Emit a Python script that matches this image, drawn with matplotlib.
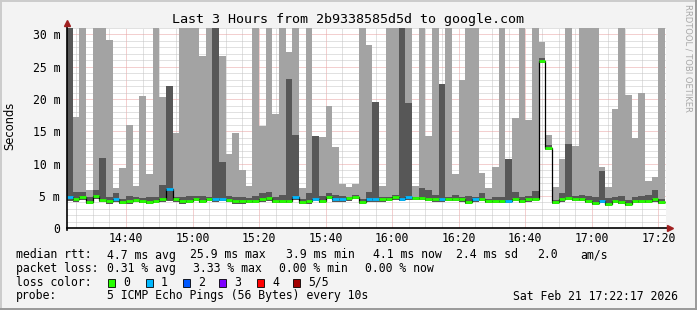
import numpy as np
import pandas as pd
import matplotlib
matplotlib.use('Agg')
import matplotlib.pyplot as plt
import matplotlib.dates as mdates
from matplotlib.ticker import MultipleLocator, FuncFormatter
from matplotlib.patches import Rectangle
from matplotlib.lines import Line2D

# 2 minute steps, first one starts 14:22
first_step = '2026-02-21 14:22:00'
graph_end = pd.Timestamp('2026-02-21 17:22:17')
step = '2min'

# smoke: highest ping, 4th ping (dark band top), median, lowest ping (ms)
rtt_max = [33, 17.3, 33, 5.95, 33, 33, 29.1, 6.3, 9.3, 16.0,
           6.5, 20.4, 8.4, 33, 20.3, 22.1, 14.7, 33, 33, 33,
           26.7, 33, 33, 26.6, 11.5, 14.8, 9.0, 6.5, 33, 15.9,
           33, 17.7, 33, 27.3, 33, 6.2, 33, 14.3, 14.2, 19.0,
           12.6, 6.85, 6.4, 6.85, 33, 28.3, 19.6, 6.5, 33, 33,
           33, 33, 6.5, 33, 14.3, 33, 22.3, 33, 8.4, 22.9,
           33, 33, 8.6, 6.2, 9.5, 33, 10.7, 17.0, 33, 16.8,
           33, 28.8, 14.5, 6.4, 10.7, 33, 12.7, 33, 33, 33,
           9.5, 6.4, 18.4, 33, 20.7, 14.0, 21.0, 7.3, 7.9, 33]
rtt_high = [33, 5.6, 5.6, 4.9, 6.0, 10.9, 4.9, 5.5, 4.6, 5.0,
            4.8, 4.7, 4.9, 4.8, 6.7, 22.1, 4.9, 4.9, 5.0, 5.0,
            5.0, 4.9, 33, 10.3, 5.0, 4.9, 4.8, 4.7, 5.0, 5.45,
            5.66, 4.9, 5.1, 23.1, 14.5, 4.6, 5.4, 14.3, 5.0, 5.4,
            5.2, 5.0, 4.8, 5.15, 4.5, 5.66, 19.6, 4.9, 4.9, 5.15,
            33, 19.4, 4.9, 6.2, 5.9, 5.2, 22.3, 4.9, 5.15, 4.8,
            5.0, 4.9, 5.45, 4.6, 4.9, 4.9, 10.7, 5.66, 4.9, 5.0,
            5.8, 26.4, 12.9, 4.4, 5.4, 13.1, 5.0, 5.1, 5.0, 4.8,
            8.8, 4.7, 4.9, 5.0, 4.4, 4.9, 5.0, 5.1, 5.9, 4.5]
rtt_median = [4.8, 4.5, 4.85, 4.1, 5.0, 4.4, 4.2, 4.55, 4.1, 4.15,
              4.4, 4.3, 4.1, 4.3, 4.5, 6.1, 4.5, 4.2, 4.3, 4.6,
              4.25, 4.6, 4.5, 4.6, 4.4, 4.2, 4.15, 4.2, 4.3, 4.5,
              4.7, 4.25, 4.25, 4.25, 4.8, 4.0, 4.2, 4.6, 4.3, 4.9,
              4.5, 4.5, 4.7, 4.85, 4.1, 4.5, 4.5, 4.5, 4.6, 4.8,
              4.6, 4.8, 4.75, 4.75, 4.6, 4.5, 4.5, 4.6, 4.6, 4.5,
              4.1, 4.5, 4.6, 4.25, 4.25, 4.3, 4.25, 4.6, 4.3, 4.5,
              4.6, 25.9, 12.5, 4.1, 4.5, 4.75, 4.6, 4.6, 4.25, 3.95,
              4.25, 3.8, 4.3, 4.1, 3.8, 4.25, 4.25, 4.25, 4.5, 4.1]
rtt_min = [4.3, 4.1, 4.4, 3.7, 4.5, 4.0, 3.8, 4.1, 3.7, 3.8,
           4.0, 3.9, 3.7, 3.9, 4.1, 4.3, 4.1, 3.8, 3.9, 4.2,
           3.9, 4.2, 4.1, 4.2, 4.0, 3.8, 3.8, 3.9, 3.9, 4.1,
           4.3, 3.9, 3.9, 3.9, 4.4, 3.7, 3.8, 4.2, 3.9, 4.5,
           4.1, 4.1, 4.3, 4.5, 3.7, 4.1, 4.1, 4.1, 4.2, 4.4,
           4.2, 4.4, 4.4, 4.4, 4.2, 4.1, 4.1, 4.2, 4.2, 4.1,
           3.7, 4.1, 4.2, 3.9, 3.9, 3.9, 3.9, 4.2, 3.9, 4.1,
           4.2, 25.6, 12.1, 3.8, 4.1, 4.4, 4.2, 4.2, 3.9, 3.6,
           3.9, 3.5, 3.9, 3.7, 3.5, 3.9, 3.9, 3.9, 4.1, 3.7]
# lost pings (of 5) per step
loss = [1, 0, 0, 0, 0, 0, 0, 1, 0, 0,
        0, 0, 0, 0, 0, 1, 0, 0, 0, 0,
        0, 0, 1, 1, 0, 0, 0, 0, 0, 0,
        0, 0, 0, 0, 1, 0, 0, 1, 0, 0,
        1, 1, 0, 0, 0, 1, 1, 0, 0, 0,
        1, 1, 0, 0, 0, 0, 1, 0, 0, 0,
        0, 1, 0, 0, 0, 0, 1, 0, 0, 0,
        0, 0, 0, 0, 0, 0, 0, 0, 0, 0,
        1, 0, 0, 0, 0, 0, 0, 0, 0, 0]

loss_labels = ['0', '1', '2', '3', '4', '5/5']
loss_colors = ['#26ff00', '#00b8ff', '#0059ff', '#7e00ff', '#ff0000', '#a10000']

title = 'Last 3 Hours from 2b9338585d5d to google.com'

W, H = 697, 310
def fx(x):
    return x / W
def fy(y):
    return 1 - y / H

mono = 'DejaVu Sans Mono'
fs = 8.3

fig = plt.figure(figsize=(W / 100, H / 100), dpi=100, facecolor='#f3f3f3')
ax = fig.add_axes([fx(67), fy(228.3), 599 / W, 200.3 / H])
ax.set_facecolor('white')
ax.set_axisbelow(True)

times = mdates.date2num(pd.date_range(first_step, periods=len(rtt_median), freq=step))
width = times[1] - times[0]
lo = np.array(rtt_min)
ax.bar(times, np.array(rtt_max) - lo, bottom=lo, width=width, align='edge',
       color='#a3a3a3', linewidth=0, zorder=1)
ax.bar(times, np.array(rtt_high) - lo, bottom=lo, width=width, align='edge',
       color='#575757', linewidth=0, zorder=1.1)

edges = np.append(times, times[-1] + width)
ax.stairs(rtt_median, edges, baseline=None, color='black', lw=0.9, zorder=3)
ax.hlines(rtt_median, times, times + width, colors=[loss_colors[l] for l in loss],
          lw=2.0, zorder=3.1)

ax.set_xlim(mdates.date2num(graph_end - pd.Timedelta(hours=3)), mdates.date2num(graph_end))
ax.set_ylim(0, 31)

ax.xaxis.set_major_locator(mdates.MinuteLocator(byminute=[0, 20, 40]))
ax.xaxis.set_minor_locator(mdates.MinuteLocator(byminute=range(0, 60, 5)))
ax.xaxis.set_major_formatter(mdates.DateFormatter('%H:%M'))
ax.yaxis.set_major_locator(MultipleLocator(5))
ax.yaxis.set_minor_locator(MultipleLocator(1))
ax.yaxis.set_major_formatter(FuncFormatter(lambda v, p: '0' if v == 0 else '%d m' % v))

ax.grid(which='minor', color='#c4c4c4', ls=(0, (1, 1)), lw=0.72)
ax.grid(which='major', color='#e8a0a0', ls=(0, (1, 1)), lw=0.72)

for s in ax.spines.values():
    s.set_visible(False)
ax.tick_params(which='both', length=0, labelsize=fs, labelfontfamily=mono)
ax.tick_params(axis='x', pad=2.5)
ax.tick_params(axis='y', pad=5)

# axes with arrows like rrdtool
ax.add_line(Line2D([0, 1.004], [0, 0], transform=ax.transAxes, color='black',
                   lw=1.2, clip_on=False, zorder=5))
ax.add_line(Line2D([0, 0], [-0.01, 1.01], transform=ax.transAxes, color='black',
                   lw=1.2, clip_on=False, zorder=5))
ax.plot([1.007], [0], marker='>', ms=4, color='#a02020', transform=ax.transAxes,
        clip_on=False, zorder=6)
ax.plot([0], [1.025], marker='^', ms=4, color='#a02020', transform=ax.transAxes,
        clip_on=False, zorder=6)

fig.text(fx(348), fy(19), title, ha='center', va='center', family=mono, size=9.6)
fig.text(fx(10), fy(126), 'Seconds', ha='center', va='center', rotation=90,
         family='DejaVu Sans', size=fs)
fig.text(fx(688), fy(4), 'RRDTOOL / TOBI OETIKER', ha='center', va='top',
         rotation=270, family='DejaVu Sans', size=6, color='#a8a8a8')

def row(y, items):
    for x, s in items:
        fig.text(fx(x), fy(y), s, ha='left', va='center', family=mono, size=fs)

row(255, [(16, 'median rtt:'), (107, '4.7 ms avg'), (190, '25.9 ms max'),
          (286, '3.9 ms min'), (373, '4.1 ms now'), (456, '2.4 ms sd'),
          (537, '2.0'), (580, 'am/s')])
row(268.5, [(16, 'packet loss:'), (107, '0.31 % avg'), (193, '3.33 % max'),
            (279, '0.00 % min'), (365, '0.00 % now')])
row(282.3, [(16, 'loss color:')])
box_x = [108, 146, 183, 219, 257, 293]
for bx, c, lab in zip(box_x, loss_colors, loss_labels):
    fig.patches.append(Rectangle((fx(bx), fy(286.5)), 7 / W, 8 / H, transform=fig.transFigure,
                                 facecolor=c, edgecolor='black', lw=0.6))
    fig.text(fx(bx + 15), fy(282.3), lab, ha='left', va='center', family=mono, size=fs)
row(296, [(16, 'probe:'), (107, '5 ICMP Echo Pings (56 Bytes) every 10s'),
          (513, 'Sat Feb 21 17:22:17 2026')])

# 3d frame
fig.add_artist(Line2D([0, 1], [fy(0.5), fy(0.5)], transform=fig.transFigure, color='#cbcbcb', lw=1.4))
fig.add_artist(Line2D([fx(0.5), fx(0.5)], [0, 1], transform=fig.transFigure, color='#cbcbcb', lw=1.4))
fig.add_artist(Line2D([0, 1], [fy(309), fy(309)], transform=fig.transFigure, color='#999999', lw=1.4))
fig.add_artist(Line2D([fx(696), fx(696)], [0, 1], transform=fig.transFigure, color='#999999', lw=1.4))

fig.savefig('out.png', dpi=100, facecolor=fig.get_facecolor())
